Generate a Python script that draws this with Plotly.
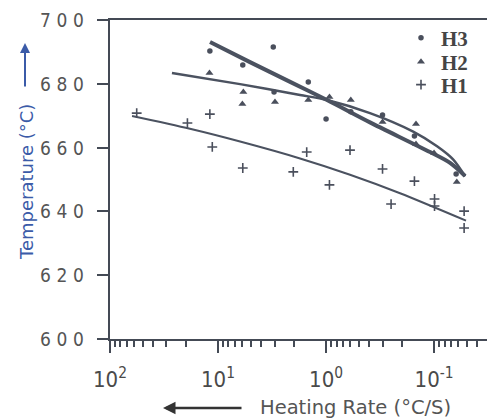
import plotly.graph_objects as go

# ---- data ----
h3_rate = [11.9, 3.08, 5.9, 3.03, 1.46, 1.0, 0.59, 0.30, 0.152, 0.0625]
h3_temp = [690.3, 691.5, 685.9, 677.4, 680.6, 669.0, 671.2, 670.2, 663.6, 651.7]

h2_rate = [12.0, 5.83, 5.95, 2.97, 1.46, 0.93, 0.59, 0.30, 0.147, 0.147, 0.10, 0.0616]
h2_temp = [683.4, 677.4, 673.7, 674.3, 674.9, 675.9, 674.9, 668.0, 667.4, 661.1, 658.3, 649.2]

h1_rate = [56.6, 19.2, 11.9, 11.3, 5.9, 2.01, 1.51, 0.93, 0.60, 0.30, 0.25, 0.152, 0.099, 0.099, 0.0527, 0.0527]
h1_temp = [670.8, 667.7, 670.5, 660.2, 653.6, 652.4, 658.6, 648.3, 659.2, 653.3, 642.3, 649.5, 643.9, 641.7, 640.1, 634.8]

h3_fit_rate = [11.86, 5.06, 2.15, 0.98, 0.392, 0.109, 0.0711, 0.0516]
h3_fit_temp = [693.1, 686.8, 680.6, 674.9, 667.9, 658.6, 655.2, 651.1]

h2_fit_rate = [26.7, 6.25, 1.74, 0.98, 0.392, 0.156, 0.0938, 0.0667, 0.0516]
h2_fit_temp = [683.4, 679.9, 676.5, 674.9, 670.8, 665.0, 660.4, 656.3, 651.0]

h1_fit_rate = [62.5, 18.2, 6.25, 1.74, 0.6, 0.2065, 0.0506]
h1_fit_temp = [669.9, 665.9, 661.9, 656.6, 651.5, 645.7, 637.1]

x_tick_vals = [100, 10, 1, 0.1]
x_tick_text = ["10<sup>2</sup>", "10<sup>1</sup>", "10<sup>0</sup>", "10<sup>-1</sup>"]
y_tick_vals = [600, 620, 640, 660, 680, 700]
y_tick_text = ["6\u20040\u20040", "6\u20042\u20040", "6\u20044\u20040",
               "6\u20046\u20040", "6\u20048\u20040", "7\u20040\u20040"]

minor_vals = [m * 10.0 ** e for e in (1, 0, -1, -2) for m in range(2, 10)]
minor_vals = [v for v in minor_vals if 0.0324 < v < 100]

# ---- figure ----
axis_col = "#444a55"
mark_col = "#4a4f5c"
line_col = "#4b5260"
narrow = "Liberation Sans Narrow, DejaVu Sans Condensed, DejaVu Sans"

fig = go.Figure()

fig.add_trace(go.Scatter(x=h3_fit_rate, y=h3_fit_temp, mode="lines",
                         line=dict(color=line_col, width=4, shape="spline", smoothing=0.8),
                         showlegend=False))
fig.add_trace(go.Scatter(x=h2_fit_rate, y=h2_fit_temp, mode="lines",
                         line=dict(color=line_col, width=2.5, shape="spline", smoothing=0.8),
                         showlegend=False))
fig.add_trace(go.Scatter(x=h1_fit_rate, y=h1_fit_temp, mode="lines",
                         line=dict(color=line_col, width=2, shape="spline", smoothing=0.8),
                         showlegend=False))

fig.add_trace(go.Scatter(x=h3_rate, y=h3_temp, mode="markers", name="H3", legend="legend",
                         marker=dict(symbol="circle", size=5.5, color=mark_col)))
fig.add_trace(go.Scatter(x=h2_rate, y=h2_temp, mode="markers", name="H2", legend="legend2",
                         marker=dict(symbol="triangle-up", size=7, color=mark_col)))
fig.add_trace(go.Scatter(x=h1_rate, y=h1_temp, mode="markers", name="H1", legend="legend3",
                         marker=dict(symbol="cross-thin", size=7, color=mark_col,
                                     line=dict(color=mark_col, width=1.6))))

L, T, B = 110, 20, 81
W, H = 487, 420
pw, ph = W - L, H - T - B


def px2paper(px, py):
    return (px - L) / pw, (H - B - py) / ph


def leg(py):
    return dict(x=px2paper(401, 0)[0], y=px2paper(0, py)[1], xanchor="left", yanchor="middle",
                font=dict(family="Liberation Serif", size=21, color="#454545", weight="bold"),
                bgcolor="rgba(0,0,0,0)", itemsizing="trace")


fig.update_layout(
    width=W, height=H,
    margin=dict(l=L, r=0, t=T, b=B),
    paper_bgcolor="white", plot_bgcolor="white",
    legend=leg(38), legend2=leg(62), legend3=leg(85),
    xaxis=dict(type="log", range=[2, -1.49], showline=True, linecolor=axis_col, linewidth=2,
               mirror=True, ticks="outside", ticklen=12, tickwidth=2, tickcolor=axis_col,
               tickvals=x_tick_vals, ticktext=x_tick_text, showgrid=False, zeroline=False,
               ticklabelstandoff=8,
               tickfont=dict(family=narrow, size=22, color="#4a4a4a"),
               minor=dict(tickvals=minor_vals, ticks="outside", ticklen=6, tickwidth=2,
                          tickcolor=axis_col, showgrid=False)),
    yaxis=dict(range=[600, 700], showline=True, linecolor=axis_col, linewidth=2,
               ticks="outside", ticklen=11, tickwidth=2, tickcolor=axis_col,
               tickvals=y_tick_vals, showticklabels=False, showgrid=False, zeroline=False),
)

# y tick labels placed on the y scale, right edge at 85 px
lx = px2paper(86, 0)[0]
for v, t in zip(y_tick_vals, y_tick_text):
    fig.add_annotation(x=lx, y=v, xref="paper", yref="y", text=t, showarrow=False,
                       xanchor="right", yanchor="middle",
                       font=dict(family=narrow, size=19, color="#555555"))

ax, ay = px2paper(26, 182)
fig.add_annotation(x=ax, y=ay, xref="paper", yref="paper", text="Temperature (°C)",
                   textangle=-90, showarrow=False, xanchor="center", yanchor="middle",
                   font=dict(family="DejaVu Sans", size=18, color="#3b5ba8"))
hx, hy = px2paper(25, 43)
fig.add_annotation(x=hx, y=hy, xref="paper", yref="paper", text="", showarrow=True,
                   ax=0, ay=45, arrowhead=2, arrowsize=1, arrowwidth=2, arrowcolor="#3b5ba8")

tx, ty = px2paper(355, 408)
fig.add_annotation(x=tx, y=ty, xref="paper", yref="paper", text="Heating Rate (°C/S)",
                   showarrow=False, xanchor="center", yanchor="middle",
                   font=dict(family="DejaVu Sans", size=19.5, color="#555555"))
gx, gy = px2paper(163, 408)
fig.add_annotation(x=gx, y=gy, xref="paper", yref="paper", text="", showarrow=True,
                   ax=80, ay=0, arrowhead=2, arrowsize=1, arrowwidth=2.5, arrowcolor="#333333")

fig.write_html("out.html", config={"displayModeBar": False},
               post_script="document.body.style.margin='0';")
